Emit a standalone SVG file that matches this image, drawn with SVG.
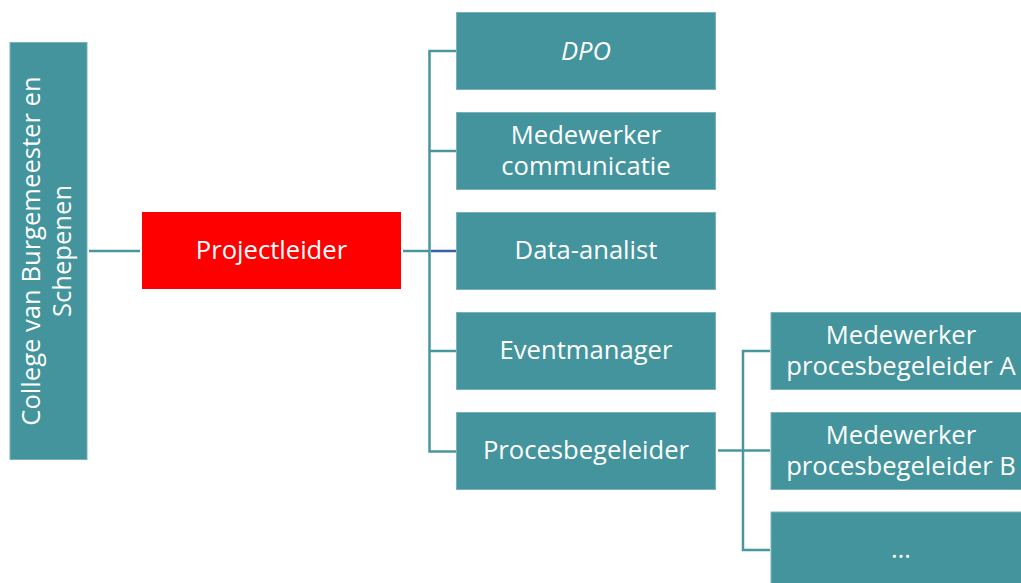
<svg xmlns="http://www.w3.org/2000/svg" width="1021" height="583" viewBox="0 0 1021 583">
  <style>
    .box { fill: #43949c; stroke: #79b3b9; stroke-width: 1; }
    .lead { fill: #ff0000; }
    .lbl { font-family: "Open Sans", "DejaVu Sans", sans-serif; font-size: 25.6px; fill: #ffffff; text-anchor: middle; }
    .link { fill: none; stroke: #4a969e; stroke-width: 2.5; }
    .link-blue { fill: none; stroke: #3d5fa6; stroke-width: 2.5; }
  </style>
  <rect width="1021" height="583" fill="#ffffff"/>

  <!-- connectors -->
  <g id="connectors">
    <line class="link" x1="89" y1="251" x2="140" y2="251"/>
    <line class="link" x1="403" y1="251" x2="430" y2="251"/>
    <path class="link" d="M456 51 H429.5 V451.5 H456"/>
    <line class="link" x1="429.5" y1="151" x2="456" y2="151"/>
    <line class="link" x1="429.5" y1="351" x2="456" y2="351"/>
    <line class="link-blue" x1="431" y1="251" x2="456" y2="251"/>
    <line class="link" x1="718" y1="450.5" x2="743" y2="450.5"/>
    <path class="link" d="M770 351 H743 V550 H770"/>
    <line class="link" x1="743" y1="450.5" x2="770" y2="450.5"/>
  </g>

  <g id="college">
    <rect class="box" x="10" y="42.5" width="77" height="417"/>
    <g transform="translate(48.5,251) rotate(-90)">
      <text class="lbl" x="0" y="-9">College van Burgemeester en</text>
      <text class="lbl" x="0" y="22.5">Schepenen</text>
    </g>
  </g>

  <g id="projectleider">
    <rect class="lead" x="142" y="212" width="259" height="77"/>
    <text class="lbl" x="271.5" y="259">Projectleider</text>
  </g>

  <g id="dpo">
    <rect class="box" x="456.5" y="12.5" width="259" height="77"/>
    <text class="lbl" x="586" y="59.5" font-style="italic">DPO</text>
  </g>

  <g id="communicatie">
    <rect class="box" x="456.5" y="112.5" width="259" height="77"/>
    <text class="lbl" x="586" y="143.5">Medewerker</text>
    <text class="lbl" x="586" y="175">communicatie</text>
  </g>

  <g id="data-analist">
    <rect class="box" x="456.5" y="212.5" width="259" height="77"/>
    <text class="lbl" x="586" y="259">Data-analist</text>
  </g>

  <g id="eventmanager">
    <rect class="box" x="456.5" y="312.5" width="259" height="77"/>
    <text class="lbl" x="586" y="359">Eventmanager</text>
  </g>

  <g id="procesbegeleider">
    <rect class="box" x="456.5" y="412.5" width="259" height="77"/>
    <text class="lbl" x="586" y="459">Procesbegeleider</text>
  </g>

  <g id="medewerker-a">
    <rect class="box" x="771" y="312.5" width="259" height="77"/>
    <text class="lbl" x="901" y="343.5">Medewerker</text>
    <text class="lbl" x="901" y="375">procesbegeleider A</text>
  </g>

  <g id="medewerker-b">
    <rect class="box" x="771" y="412.5" width="259" height="77"/>
    <text class="lbl" x="901" y="443.5">Medewerker</text>
    <text class="lbl" x="901" y="475">procesbegeleider B</text>
  </g>

  <g id="overige">
    <rect class="box" x="771" y="512" width="259" height="77"/>
    <text class="lbl" x="901" y="558">…</text>
  </g>
</svg>
